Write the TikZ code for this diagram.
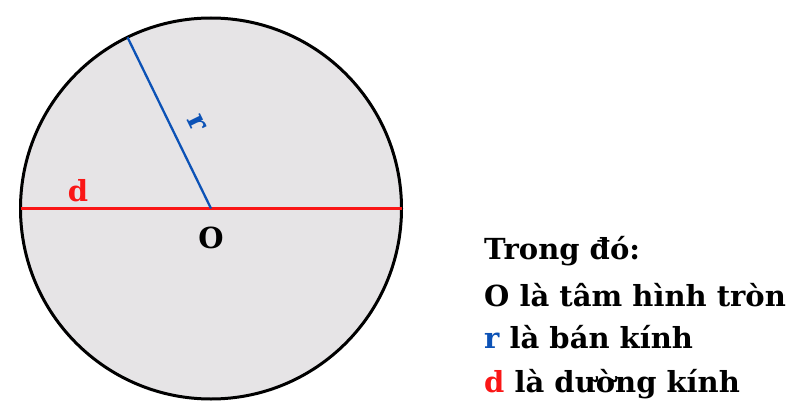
\documentclass[tikz,border=0pt]{standalone}
\usepackage{fontspec}
\setmainfont{DejaVu Serif}
\definecolor{fillgray}{RGB}{230,228,230}
\definecolor{rblue}{RGB}{12,82,182}
\definecolor{dred}{RGB}{250,22,22}
\begin{document}
\begin{tikzpicture}[x=1pt,y=-1pt,
  lbl/.style={font=\fontsize{29}{35}\selectfont\bfseries, inner sep=0pt},
  legend/.style={lbl, anchor=base west},
  disc/.style={circle, draw=black, line width=3pt, fill=fillgray, minimum size=381pt, inner sep=0pt, outer sep=0pt}]
\useasboundingbox (0,0) rectangle (800,412);
\node[disc] (C) at (211,208.5) {};
\draw[dred, line width=2.3pt] (C.west) -- (C.east);
\draw[rblue, line width=2.3pt] (C.center) -- (C.116.3);
\node[lbl] (Olbl) at (211,238) {O};
\node[lbl, text=dred] (dlbl) at (78,191) {d};
\node[lbl, text=rblue, rotate=-63.7] (rlbl) at (197,123) {r};
\node[legend] (t1) at (484,259) {Trong đó:};
\node[legend] (t2) at (484,306) {O là tâm hình tròn};
\node[legend] (t3) at (484,348) {\textcolor{rblue}{r} là bán kính};
\node[legend] (t4) at (484,392) {\textcolor{dred}{d} là dường kính};
\end{tikzpicture}
\end{document}
